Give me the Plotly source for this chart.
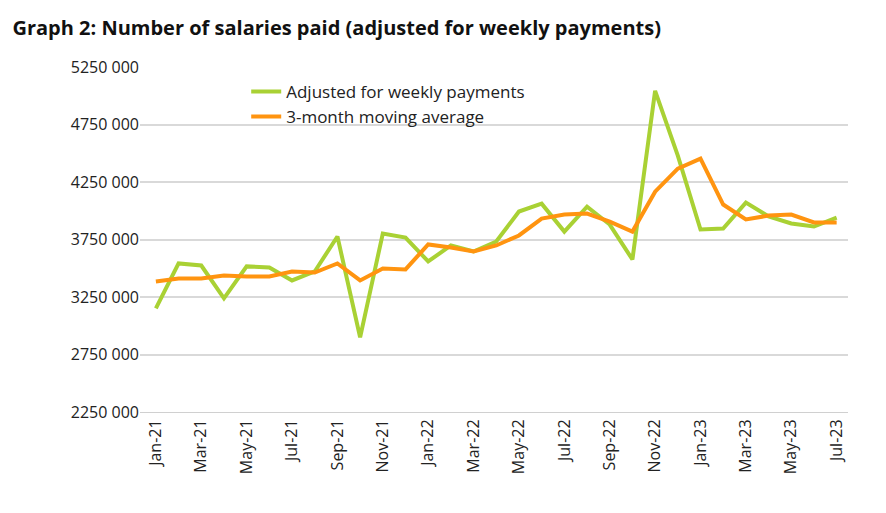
import plotly.graph_objects as go

months = ["Jan-21", "Feb-21", "Mar-21", "Apr-21", "May-21", "Jun-21", "Jul-21", "Aug-21",
          "Sep-21", "Oct-21", "Nov-21", "Dec-21", "Jan-22", "Feb-22", "Mar-22", "Apr-22",
          "May-22", "Jun-22", "Jul-22", "Aug-22", "Sep-22", "Oct-22", "Nov-22", "Dec-22",
          "Jan-23", "Feb-23", "Mar-23", "Apr-23", "May-23", "Jun-23", "Jul-23"]
adjusted = [3151000, 3542000, 3524000, 3238000, 3516000, 3507000, 3394000, 3472000,
            3776000, 2899000, 3802000, 3767000, 3559000, 3698000, 3646000, 3733000,
            3993000, 4062000, 3819000, 4036000, 3880000, 3576000, 5043000, 4479000,
            3837000, 3845000, 4071000, 3950000, 3889000, 3863000, 3941000]
moving_avg = [3385000, 3411000, 3411000, 3437000, 3428000, 3428000, 3472000, 3463000,
              3542000, 3394000, 3498000, 3490000, 3707000, 3681000, 3646000, 3698000,
              3785000, 3932000, 3967000, 3976000, 3906000, 3819000, 4166000, 4366000,
              4453000, 4054000, 3924000, 3958000, 3967000, 3898000, 3898000]
y_ticks = [2250000, 2750000, 3250000, 3750000, 4250000, 4750000, 5250000]
y_labels = ["2250 000", "2750 000", "3250 000", "3750 000", "4250 000", "4750 000", "5250 000"]

fig = go.Figure()
fig.add_trace(go.Scatter(x=months, y=adjusted, mode="lines", name="Adjusted for weekly payments",
                         line=dict(color="#a9d134", width=4)))
fig.add_trace(go.Scatter(x=months, y=moving_avg, mode="lines", name="3-month moving average",
                         line=dict(color="#ff9410", width=4)))

fig.update_xaxes(tickmode="array", tickvals=months[::2], ticktext=months[::2], tickangle=-90,
                 showgrid=False, showline=True, linecolor="#d0d0d0", ticks="",
                 range=[-0.7, 30.5], tickfont=dict(size=16, color="#222"))
fig.update_yaxes(tickmode="array", tickvals=y_ticks, ticktext=y_labels, range=[2250000, 5250000],
                 gridcolor="#d9d9d9", gridwidth=1.5, zeroline=False, tickfont=dict(size=16, color="#222"),
                 ticksuffix="  ")
fig.update_layout(
    width=886, height=513, plot_bgcolor="white", paper_bgcolor="white",
    font=dict(family="Open Sans, Noto Sans, sans-serif"),
    title=dict(text="<b>Graph 2: Number of salaries paid (adjusted for weekly payments)</b>",
               x=0.005, y=0.975, font=dict(size=20, color="#111")),
    margin=dict(l=132, r=46, t=59, b=109, autoexpand=False),
    legend=dict(x=0.15, y=0.98, bgcolor="rgba(0,0,0,0)", font=dict(size=17, color="#222"),
                tracegroupgap=4),
    showlegend=True,
)
fig.write_html("out.html")
